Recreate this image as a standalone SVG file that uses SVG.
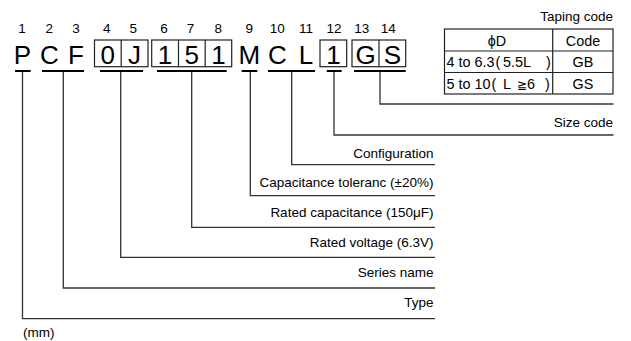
<svg xmlns="http://www.w3.org/2000/svg" width="631" height="341" viewBox="0 0 631 341">
<style>
text{font-family:"Liberation Sans",Arial,sans-serif;fill:#000}
.num{font-size:13.5px;text-anchor:middle}
.big{font-size:26px;text-anchor:middle}
.lab{font-size:13.5px;text-anchor:end}
.tb{font-size:14.4px}
.mm{font-size:13.5px}
.c{text-anchor:middle}
.box{fill:none;stroke:#222;stroke-width:1.2}
.ul{stroke:#000;stroke-width:2;fill:none}
.ln{stroke:#333;stroke-width:1.3;fill:none}
</style>
<rect width="631" height="341" fill="#fff"/>
<g id="numbers">
<text class="num" x="22" y="33">1</text>
<text class="num" x="49.3" y="33">2</text>
<text class="num" x="76" y="33">3</text>
<text class="num" x="106.7" y="33">4</text>
<text class="num" x="133.3" y="33">5</text>
<text class="num" x="164" y="33">6</text>
<text class="num" x="190.5" y="33">7</text>
<text class="num" x="218.3" y="33">8</text>
<text class="num" x="249.3" y="33">9</text>
<text class="num" x="277.3" y="33">10</text>
<text class="num" x="306" y="33">11</text>
<text class="num" x="334" y="33">12</text>
<text class="num" x="361.7" y="33">13</text>
<text class="num" x="388.3" y="33">14</text>
</g>
<g id="code">
<text class="big" x="22.3" y="64">P</text>
<text class="big" x="49.3" y="64">C</text>
<text class="big" x="76" y="64">F</text>
<g id="box-0J">
<rect class="box" x="94.5" y="40" width="53.5" height="26.7"/>
<line class="box" x1="121.2" y1="40" x2="121.2" y2="66.7"/>
<text class="big" x="107.8" y="64">0</text>
<text class="big" x="134.6" y="64">J</text>
</g>
<g id="box-151">
<rect class="box" x="151.7" y="40" width="80" height="26.7"/>
<line class="box" x1="178.5" y1="40" x2="178.5" y2="66.7"/>
<line class="box" x1="205.2" y1="40" x2="205.2" y2="66.7"/>
<text class="big" x="165" y="64">1</text>
<text class="big" x="191.8" y="64">5</text>
<text class="big" x="218.5" y="64">1</text>
</g>
<text class="big" x="249.3" y="64">M</text>
<text class="big" x="277.3" y="64">C</text>
<text class="big" x="306" y="64">L</text>
<g id="box-1">
<rect class="box" x="320" y="40" width="26.7" height="26.7"/>
<text class="big" x="333.4" y="64">1</text>
</g>
<g id="box-GS">
<rect class="box" x="352" y="40" width="53.7" height="26.7"/>
<line class="box" x1="379" y1="40" x2="379" y2="66.7"/>
<text class="big" x="365.5" y="64">G</text>
<text class="big" x="392.3" y="64">S</text>
</g>
</g>
<g id="connectors">
<line class="ul" x1="15" y1="71" x2="30.7" y2="71"/>
<line class="ul" x1="42" y1="71" x2="84" y2="71"/>
<line class="ul" x1="100" y1="71" x2="143" y2="71"/>
<line class="ul" x1="157" y1="71" x2="226.7" y2="71"/>
<line class="ul" x1="241.7" y1="71" x2="257.3" y2="71"/>
<line class="ul" x1="268" y1="71" x2="315" y2="71"/>
<line class="ul" x1="326.7" y1="71" x2="341.7" y2="71"/>
<line class="ul" x1="354" y1="71" x2="405.7" y2="71"/>
<polyline class="ln" points="380,72 380,104 613.5,104"/>
<polyline class="ln" points="334,72 334,135 613.5,135"/>
<polyline class="ln" points="291.7,72 291.7,164.7 435,164.7"/>
<polyline class="ln" points="250.3,72 250.3,195.7 435,195.7"/>
<polyline class="ln" points="191.7,72 191.7,227.3 435,227.3"/>
<polyline class="ln" points="120.7,72 120.7,257.3 435,257.3"/>
<polyline class="ln" points="63.3,72 63.3,288 435,288"/>
<polyline class="ln" points="22.5,72 22.5,318.7 435,318.7"/>
</g>
<g id="labels">
<text class="lab" x="613" y="127">Size code</text>
<text class="lab" x="433.5" y="157.5">Configuration</text>
<text class="lab" x="433.5" y="186.7">Capacitance toleranc (±20%)</text>
<text class="lab" x="433.5" y="217">Rated capacitance (150μF)</text>
<text class="lab" x="433.5" y="247.3">Rated voltage (6.3V)</text>
<text class="lab" x="433.5" y="277">Series name</text>
<text class="lab" x="433.5" y="307">Type</text>
<text class="mm" x="23" y="337">(mm)</text>
</g>
<g id="taping-table">
<text class="lab" x="613" y="21">Taping code</text>
<rect class="box" x="444.5" y="29" width="168.5" height="65"/>
<line class="box" x1="552.7" y1="29" x2="552.7" y2="94"/>
<line class="box" x1="444.5" y1="51" x2="613" y2="51"/>
<line class="box" x1="444.5" y1="72.5" x2="613" y2="72.5"/>
<text class="tb c" x="497" y="45.5">ϕD</text>
<text class="tb c" x="583" y="45.5">Code</text>
<text class="tb" y="67"><tspan x="446.5">4 to 6.3</tspan><tspan x="495.5">(</tspan><tspan x="503">5.5L</tspan><tspan x="546">)</tspan></text>
<text class="tb c" x="583" y="67">GB</text>
<text class="tb" y="88.5"><tspan x="446.5">5 to 10</tspan><tspan x="491.5">(</tspan><tspan x="503">L</tspan><tspan x="516.5" font-size="11.5">≧</tspan><tspan x="527">6</tspan><tspan x="545">)</tspan></text>
<text class="tb c" x="583" y="88.5">GS</text>
</g>
</svg>
